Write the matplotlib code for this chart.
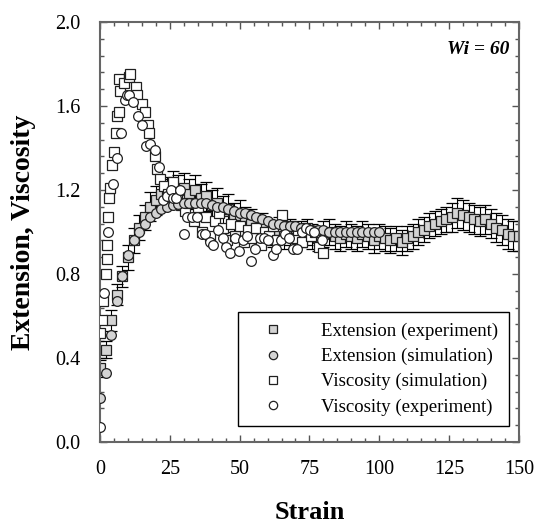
import matplotlib
matplotlib.use("Agg")
import matplotlib.pyplot as plt
from matplotlib.ticker import MultipleLocator, FormatStrFormatter
from matplotlib.lines import Line2D

plt.rcParams['font.family'] = ['Liberation Serif', 'DejaVu Serif']

# --- data ---

# extension, experiment (grey squares with error bars)
ext_exp_strain = [0, 2, 4, 6, 8, 10, 12, 14, 16, 18, 20, 22, 24, 26, 28, 30, 32, 34, 36, 38,
                  40, 42, 44, 46, 48, 50, 52, 54, 56, 58, 60, 62, 64, 66, 68, 70, 72, 74, 76, 78,
                  80, 82, 84, 86, 88, 90, 92, 94, 96, 98, 100, 102, 104, 106, 108, 110, 112, 114,
                  116, 118, 120, 122, 124, 126, 128, 130, 132, 134, 136, 138, 140, 142, 144, 146,
                  148, 150]
ext_exp_val = [0.35, 0.44, 0.58, 0.70, 0.79, 0.88, 0.96, 1.02, 1.07, 1.12, 1.15, 1.18, 1.19, 1.22,
               1.20, 1.21, 1.18, 1.20, 1.16, 1.17, 1.13, 1.14, 1.10, 1.11, 1.07, 1.08, 1.05, 1.04,
               1.02, 1.03, 1.00, 0.99, 1.01, 0.98, 1.00, 0.97, 0.99, 1.00, 0.98, 0.97, 0.99, 1.00,
               0.98, 0.97, 0.99, 0.98, 0.97, 0.99, 0.98, 0.96, 0.98, 0.97, 0.96, 0.97, 0.95, 0.97,
               0.98, 1.00, 1.01, 1.03, 1.04, 1.05, 1.06, 1.07, 1.09, 1.08, 1.07, 1.06, 1.05, 1.06,
               1.04, 1.02, 1.01, 0.99, 0.98, 0.98]
ext_exp_err = [0.04, 0.04, 0.05, 0.05, 0.05, 0.06, 0.06, 0.06, 0.06, 0.07, 0.07, 0.07, 0.07, 0.07,
               0.07, 0.07, 0.07, 0.07, 0.07, 0.07, 0.07, 0.07, 0.07, 0.07, 0.07, 0.07, 0.07, 0.07,
               0.06, 0.06, 0.06, 0.06, 0.06, 0.06, 0.06, 0.06, 0.06, 0.06, 0.06, 0.06, 0.06, 0.06,
               0.06, 0.06, 0.06, 0.06, 0.06, 0.06, 0.06, 0.06, 0.06, 0.06, 0.06, 0.06, 0.06, 0.06,
               0.06, 0.06, 0.06, 0.06, 0.06, 0.06, 0.06, 0.07, 0.07, 0.07, 0.07, 0.07, 0.07, 0.07,
               0.07, 0.07, 0.07, 0.07, 0.07, 0.07]

# extension, simulation (grey circles)
ext_sim_strain = [0, 2, 4, 6, 8, 10, 12, 14, 16, 18, 20, 22, 24, 26, 28, 30, 32, 34, 36, 38,
                  40, 42, 44, 46, 48, 50, 52, 54, 56, 58, 60, 62, 64, 66, 68, 70, 72, 74, 76, 78,
                  80, 82, 84, 86, 88, 90, 92, 94, 96, 98, 100]
ext_sim_val = [0.21, 0.33, 0.51, 0.67, 0.79, 0.89, 0.96, 1.00, 1.04, 1.07, 1.09, 1.11, 1.12, 1.13,
               1.135, 1.14, 1.14, 1.14, 1.14, 1.14, 1.13, 1.12, 1.12, 1.11, 1.10, 1.09, 1.09, 1.08,
               1.07, 1.06, 1.05, 1.04, 1.04, 1.03, 1.03, 1.03, 1.02, 1.02, 1.01, 1.01, 1.01, 1.00,
               1.00, 1.00, 1.00, 1.00, 1.00, 1.00, 1.00, 1.00, 1.00]

# viscosity, simulation (open squares)
visc_sim_strain = [0.1, 0.6, 1.1, 2.1, 2.4, 2.6, 3.0, 3.2, 3.5, 4.4, 5.1, 5.6, 6.2, 6.6, 6.9, 7.3,
                   8.5, 10.3, 10.6, 12.8, 13.2, 14.9, 16.1, 17.1, 17.4, 19.8, 20.5, 21.5, 23.0,
                   24.5, 26.0, 27.5, 29.0, 30.5, 32.0, 33.5, 35.0, 36.5, 38.0, 39.5, 41.0, 42.5,
                   44.0, 45.5, 47.0, 48.5, 50.0, 51.5, 53.0, 54.5, 56.0, 57.5, 59.0, 60.5, 62.0,
                   63.5, 65.0, 66.5, 68.0, 69.5, 71.0, 72.5, 74.0, 75.5, 77.0, 78.5, 80.0]
visc_sim_val = [0.52, 0.58, 0.67, 0.80, 0.87, 0.94, 1.07, 1.16, 1.21, 1.32, 1.38, 1.47, 1.55, 1.57,
                1.73, 1.67, 1.71, 1.74, 1.75, 1.69, 1.65, 1.61, 1.57, 1.51, 1.47, 1.36, 1.30, 1.25,
                1.22, 1.18, 1.24, 1.15, 1.13, 1.10, 1.14, 1.05, 1.12, 1.00, 1.07, 0.98, 1.05, 1.09,
                1.02, 0.96, 1.04, 0.98, 1.03, 0.95, 1.01, 0.97, 1.02, 0.94, 1.00, 0.98, 1.03, 0.96,
                1.08, 1.00, 1.03, 0.97, 1.01, 0.95, 1.02, 0.98, 1.00, 0.93, 0.90]

# viscosity, experiment (open circles)
visc_exp_strain = [0.0, 1.5, 3.0, 4.5, 6.0, 7.4, 8.8, 9.7, 10.5, 11.9, 13.5, 15.0, 16.5, 17.9,
                   19.6, 21.0, 22.5, 23.9, 25.3, 26.2, 27.2, 28.6, 30.1, 31.3, 33.0, 34.6, 36.5,
                   37.7, 39.2, 40.6, 42.3, 43.9, 45.1, 46.6, 48.2, 49.6, 51.3, 52.7, 54.2, 55.6,
                   57.3, 58.6, 60.2, 61.9, 63.0, 64.7, 66.1, 67.6, 69.0, 70.7, 72.3, 73.8, 75.2,
                   76.6, 79.5]
visc_exp_val = [0.07, 0.71, 1.00, 1.23, 1.35, 1.47, 1.63, 1.65, 1.65, 1.62, 1.55, 1.51, 1.41, 1.42,
                1.39, 1.31, 1.15, 1.17, 1.20, 1.16, 1.16, 1.20, 0.99, 1.07, 1.07, 1.07, 0.99, 0.99,
                0.95, 0.94, 1.01, 0.97, 0.93, 0.90, 0.97, 0.91, 0.96, 0.98, 0.86, 0.92, 0.97, 0.97,
                0.96, 0.89, 0.92, 0.96, 0.99, 0.97, 0.92, 0.92, 1.00, 1.02, 1.01, 1.00, 0.96]

labels = ['Extension (experiment)', 'Extension (simulation)',
          'Viscosity (simulation)', 'Viscosity (experiment)']

grey = '#d3d3d3'
edge = '#202020'

fig = plt.figure(figsize=(5.41, 5.23), dpi=100)
ax = fig.add_axes([0.185, 0.155, 0.774, 0.803])

ax.errorbar(ext_exp_strain, ext_exp_val, yerr=ext_exp_err, fmt='s', ms=6.5, mfc=grey, mec=edge,
            mew=0.9, ecolor='black', elinewidth=0.8, capsize=4, capthick=0.8, zorder=2)
ax.plot(visc_sim_strain, visc_sim_val, 's', ms=6.5, mfc='white', mec=edge, mew=0.9, zorder=3)
ax.plot(ext_sim_strain, ext_sim_val, 'o', ms=7, mfc=grey, mec=edge, mew=0.9, zorder=4)
ax.plot(visc_exp_strain, visc_exp_val, 'o', ms=7, mfc='white', mec=edge, mew=0.9, zorder=5)

ax.set_xlim(0, 150)
ax.set_ylim(0, 2.0)
ax.xaxis.set_major_locator(MultipleLocator(25))
ax.xaxis.set_minor_locator(MultipleLocator(5))
ax.yaxis.set_major_locator(MultipleLocator(0.4))
ax.yaxis.set_minor_locator(MultipleLocator(0.08))
ax.yaxis.set_major_formatter(FormatStrFormatter('%.1f'))
ax.tick_params(which='both', direction='in', top=True, right=True, color='#555555', labelsize=14.5)
ax.tick_params(which='major', length=5, width=1)
ax.tick_params(which='minor', length=3, width=1)
ax.tick_params(axis='x', pad=13)
ax.tick_params(axis='y', pad=14)
for s in ax.spines.values():
    s.set_color('#666666')
    s.set_linewidth(1.5)

ax.set_xlabel('Strain', fontsize=19, fontweight='bold', labelpad=16)
ax.set_ylabel('Extension, Viscosity', fontsize=20, fontweight='bold', labelpad=14)

ax.text(0.977, 0.955, 'Wi = 60', transform=ax.transAxes, ha='right', va='top',
        fontsize=14, fontweight='bold', fontstyle='italic')

# legend shows markers only, no error bars
proxies = [
    Line2D([], [], ls='none', marker='s', ms=5.5, mfc=grey, mec=edge, mew=0.9),
    Line2D([], [], ls='none', marker='o', ms=6, mfc=grey, mec=edge, mew=0.9),
    Line2D([], [], ls='none', marker='s', ms=5.5, mfc='white', mec=edge, mew=0.9),
    Line2D([], [], ls='none', marker='o', ms=6, mfc='white', mec=edge, mew=0.9),
]
leg = ax.legend(proxies, labels, loc='lower right', bbox_to_anchor=(0.976, 0.038), fontsize=13.5,
                frameon=True, fancybox=False, edgecolor='black', framealpha=1,
                handletextpad=1.3, labelspacing=0.42, borderpad=0.55, handlelength=2.6,
                borderaxespad=0)
leg.get_frame().set_linewidth(1.0)

fig.savefig('out.png', dpi=100)
